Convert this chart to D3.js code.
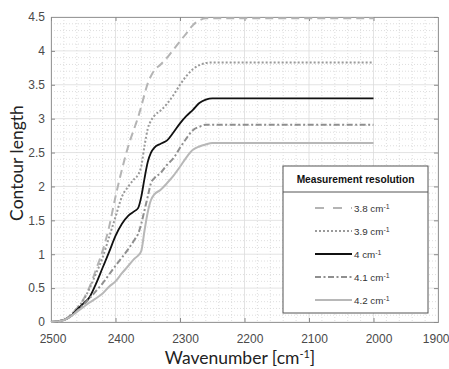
<!DOCTYPE html>
<html><head><meta charset="utf-8">
<script src="https://cdn.jsdelivr.net/npm/d3@7"></script>
<style>body{margin:0;background:#fff}svg{display:block}</style>
</head><body>
<svg id="c" width="449" height="369"></svg>
<script>
const wavenumbers = [2500,2490,2480,2470,2460,2450,2440,2430,2420,2410,2400,2390,2380,2370,2365,2360,2355,2350,2345,2340,2330,2320,2310,2300,2290,2280,2270,2260,2250,2000];
const res38 = [0,0.01,0.03,0.10,0.20,0.33,0.52,0.78,1.05,1.40,1.85,2.25,2.60,2.88,3.02,3.18,3.36,3.52,3.63,3.71,3.80,3.90,4.02,4.14,4.26,4.38,4.45,4.48,4.48,4.48];
const res39 = [0,0.01,0.03,0.10,0.20,0.32,0.50,0.72,0.95,1.25,1.55,1.85,2.00,2.12,2.17,2.30,2.60,2.85,2.97,3.04,3.12,3.22,3.35,3.50,3.63,3.73,3.79,3.82,3.83,3.83];
const res40 = [0,0.01,0.03,0.08,0.18,0.27,0.37,0.57,0.80,1.03,1.27,1.45,1.57,1.64,1.68,1.85,2.12,2.36,2.50,2.57,2.63,2.68,2.80,2.93,3.04,3.13,3.23,3.28,3.30,3.30];
const res41 = [0,0.01,0.03,0.08,0.16,0.25,0.35,0.46,0.57,0.70,0.83,0.95,1.08,1.22,1.30,1.45,1.65,1.85,2.05,2.12,2.20,2.32,2.42,2.57,2.71,2.83,2.88,2.91,2.91,2.91];
const res42 = [0,0.01,0.03,0.08,0.15,0.22,0.29,0.35,0.42,0.52,0.60,0.72,0.83,0.94,0.98,1.05,1.35,1.62,1.80,1.88,1.95,2.05,2.16,2.29,2.43,2.54,2.59,2.62,2.64,2.64];
const seriesLabels = ["3.8","3.9","4","4.1","4.2"];
const xTicks = [2500,2400,2300,2200,2100,2000,1900];
const yTicks = [0,0.5,1,1.5,2,2.5,3,3.5,4,4.5];

const styles = [
  {color:"#b4b4b4", width:2, dash:"8,5"},
  {color:"#9a9a9a", width:2, dash:"2,2"},
  {color:"#111111", width:1.8, dash:null},
  {color:"#8f8f8f", width:2, dash:"6,2.5,2,2.5"},
  {color:"#b8b8b8", width:2, dash:null}
];
const legendDash = ["9,9", "2,2", null, "6,2.5,2,2.5", null];
const allSeries = [res38,res39,res40,res41,res42];

const svg = d3.select("#c");
const L=51, R=438, T=17, B=322;
const x = d3.scaleLinear().domain([2500,1900]).range([L,R]);
const y = d3.scaleLinear().domain([0,4.5]).range([B,T]);

// minor grid
const g = svg.append("g");
d3.range(2500,1899,-20).forEach(v=>{ if(v%100) g.append("line").attr("x1",x(v)).attr("x2",x(v)).attr("y1",T).attr("y2",B).attr("stroke","#d6d6d6").attr("stroke-width",0.8).attr("stroke-dasharray","1,2");});
d3.range(0,45).forEach(i=>{ if(i%5) {const v=i/10; g.append("line").attr("x1",L).attr("x2",R).attr("y1",y(v)).attr("y2",y(v)).attr("stroke","#d6d6d6").attr("stroke-width",0.8).attr("stroke-dasharray","1,2");}});
// major grid
xTicks.forEach(v=>g.append("line").attr("x1",x(v)).attr("x2",x(v)).attr("y1",T).attr("y2",B).attr("stroke","#dcdcdc").attr("stroke-width",0.8));
yTicks.forEach(v=>g.append("line").attr("x1",L).attr("x2",R).attr("y1",y(v)).attr("y2",y(v)).attr("stroke","#dcdcdc").attr("stroke-width",0.8));

// axes
const xAxis = svg.append("g").attr("transform",`translate(0,${B})`).call(d3.axisBottom(x).tickValues(xTicks).tickSize(-4).tickPadding(12).tickFormat(d3.format("d")));
const yAxis = svg.append("g").attr("transform",`translate(${L},0)`).call(d3.axisLeft(y).tickValues(yTicks).tickSize(-4).tickPadding(6).tickFormat(d=>String(d)));
svg.append("g").attr("transform",`translate(0,${T})`).call(d3.axisTop(x).tickValues(xTicks).tickSize(-4).tickFormat(""));
svg.append("g").attr("transform",`translate(${R},0)`).call(d3.axisRight(y).tickValues(yTicks).tickSize(-4).tickFormat(""));
svg.selectAll(".domain").attr("stroke","#9a9a9a");
svg.selectAll(".tick line").attr("stroke","#8a8a8a");
svg.selectAll(".tick text").attr("fill","#4a4a4a").attr("font-family","Liberation Sans, Arial, sans-serif").attr("font-size",12);
xAxis.selectAll(".tick text").attr("dx",d=> d===2500 ? 1.5 : (d===1900 ? 0 : 5))
  .attr("text-anchor", d=> d===1900 ? "end" : "middle")
  .attr("x", d=> d===1900 ? (449 - x(1900)) : 0);

// lines
const line = d3.line().x((d,i)=>x(wavenumbers[i])).y(d=>y(d)).curve(d3.curveMonotoneX);
allSeries.forEach((s,i)=>{
  svg.append("path").datum(s).attr("d",line).attr("fill","none")
    .attr("stroke",styles[i].color).attr("stroke-width",styles[i].width)
    .attr("stroke-dasharray",styles[i].dash);
});

// axis labels
svg.append("text").attr("x",240).attr("y",364).attr("text-anchor","middle")
  .attr("font-family","Lato, Open Sans, sans-serif").attr("font-size",17.5).attr("fill","#222")
  .html('Wavenumber [cm<tspan baseline-shift="super" font-size="11">-1</tspan>]');
svg.append("text").attr("transform","translate(23,163) rotate(-90)").attr("text-anchor","middle")
  .attr("font-family","Lato, Open Sans, sans-serif").attr("font-size",17.5).attr("fill","#222")
  .text("Contour length");

// legend
const lg = svg.append("g");
const lx=283, ly=166, lw=145, lh=147;
lg.append("rect").attr("x",lx).attr("y",ly).attr("width",lw).attr("height",lh).attr("fill","#fff").attr("stroke","#555").attr("stroke-width",1);
lg.append("line").attr("x1",lx).attr("x2",lx+lw).attr("y1",ly+26).attr("y2",ly+26).attr("stroke","#555").attr("stroke-width",1);
lg.append("text").attr("x",lx+lw/2).attr("y",ly+17).attr("text-anchor","middle")
  .attr("font-family","Liberation Sans, Arial, sans-serif").attr("font-size",10.2).attr("font-weight","bold").attr("fill","#111")
  .text("Measurement resolution");
seriesLabels.forEach((lab,i)=>{
  const yy = 208 + i*23;
  lg.append("line").attr("x1",315).attr("x2",352).attr("y1",yy).attr("y2",yy)
    .attr("stroke",styles[i].color).attr("stroke-width",styles[i].width).attr("stroke-dasharray",legendDash[i]);
  lg.append("text").attr("x",354).attr("y",yy+3.5)
    .attr("font-family","Liberation Sans, Arial, sans-serif").attr("font-size",9.8).attr("fill","#333")
    .html(`${lab} cm<tspan baseline-shift="super" font-size="7">-1</tspan>`);
});
</script>
</body></html>
